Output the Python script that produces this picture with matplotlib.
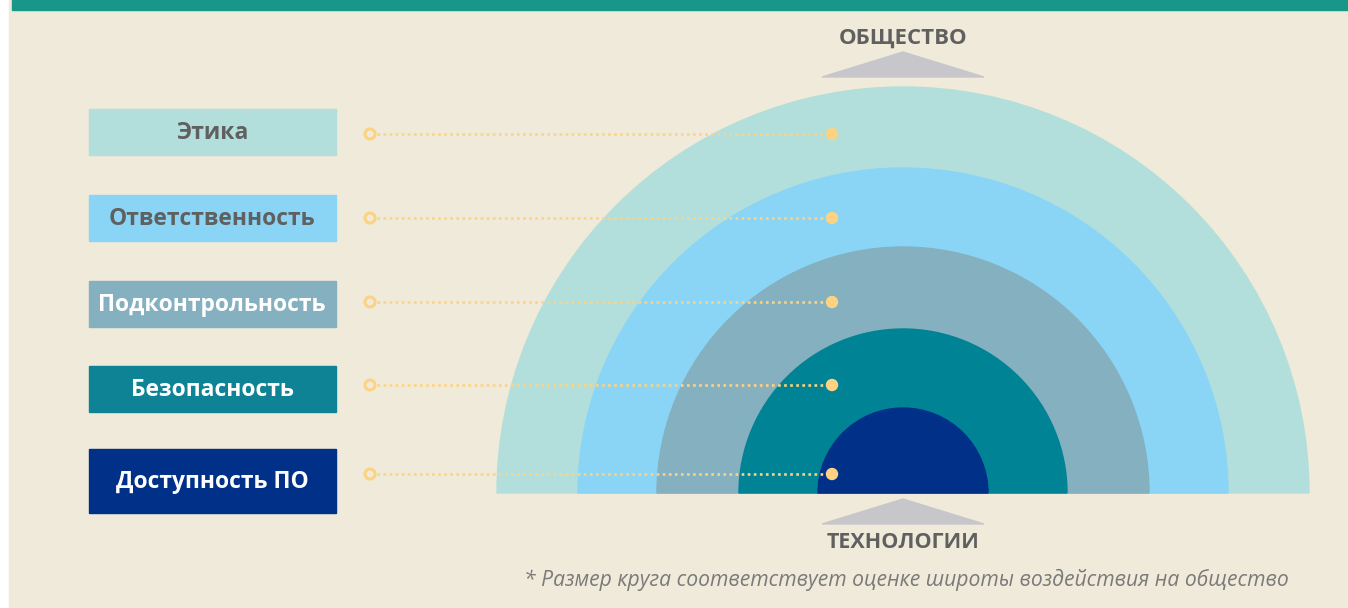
import matplotlib.pyplot as plt
from matplotlib.patches import Wedge, Rectangle, Polygon, Circle

# уровни (снаружи внутрь)
labels = ['Этика', 'Ответственность', 'Подконтрольность', 'Безопасность', 'Доступность ПО']
radii = [406, 325, 246, 164, 85]
ring_colors = ['#b2dfdb', '#8ad5f6', '#84b0bf', '#008395', '#003087']
box_colors = ['#b2dfdb', '#8ad5f6', '#84b0bf', '#0e8395', '#003087']
text_colors = ['#606060', '#606060', '#ffffff', '#ffffff', '#ffffff']
row_y = [134, 218, 302, 385, 474]
box_y = [132, 218, 304, 389, 481]
box_h = [46, 46, 46, 46, 64]

bg = '#f0eada'
cx, cy = 903, 493
font = 'Open Sans'

fig = plt.figure(figsize=(13.48, 6.08), dpi=100)
fig.patch.set_facecolor('white')
ax = fig.add_axes([0, 0, 1, 1])
ax.set_xlim(0, 1348)
ax.set_ylim(608, 0)
ax.set_aspect('equal')
ax.axis('off')

ax.add_patch(Rectangle((9, 0), 1339, 608, color=bg, zorder=0))
ax.add_patch(Rectangle((12, 0), 1336, 10, color='#17978a', zorder=1))

# полукруги
for r, c in zip(radii, ring_colors):
    ax.add_patch(Wedge((cx, cy), r, 180, 360, color=c, zorder=2))

# подписи слева
for i, lab in enumerate(labels):
    y = row_y[i]
    h = box_h[i]
    ax.add_patch(Rectangle((89, box_y[i] - h / 2), 247, h, color=box_colors[i], zorder=3))
    ax.text(212, box_y[i] + 1, lab, ha='center', va='center', fontsize=16.5, fontweight='bold',
            family=font, color=text_colors[i], zorder=4)
    ax.plot([377, 826], [y, y], color='#fdd383', lw=1.9, ls=(0, (1, 1.3)), zorder=4)
    ax.add_patch(Circle((370, y), 5, facecolor='none', edgecolor='#fdd383', lw=2.2, zorder=5))
    ax.add_patch(Circle((832, y), 5.5, color='#fdd383', zorder=5))

# стрелки-треугольники
ax.add_patch(Polygon([(822, 77), (903, 52), (984, 77)], color='#c7c7cb', zorder=2))
ax.add_patch(Polygon([(822, 524), (903, 499), (984, 524)], color='#c7c7cb', zorder=2))
ax.text(903, 38, 'ОБЩЕСТВО', ha='center', va='center', fontsize=16, fontweight='bold',
        family=font, color='#606060')
ax.text(903, 542, 'ТЕХНОЛОГИИ', ha='center', va='center', fontsize=15.5, fontweight='bold',
        family=font, color='#606060')

ax.text(906, 580, '* Размер круга соответствует оценке широты воздействия на общество',
        ha='center', va='center', fontsize=15.2, style='italic', family=font, color='#7a7a7a')

fig.savefig('out.png', dpi=100, facecolor=fig.get_facecolor())
